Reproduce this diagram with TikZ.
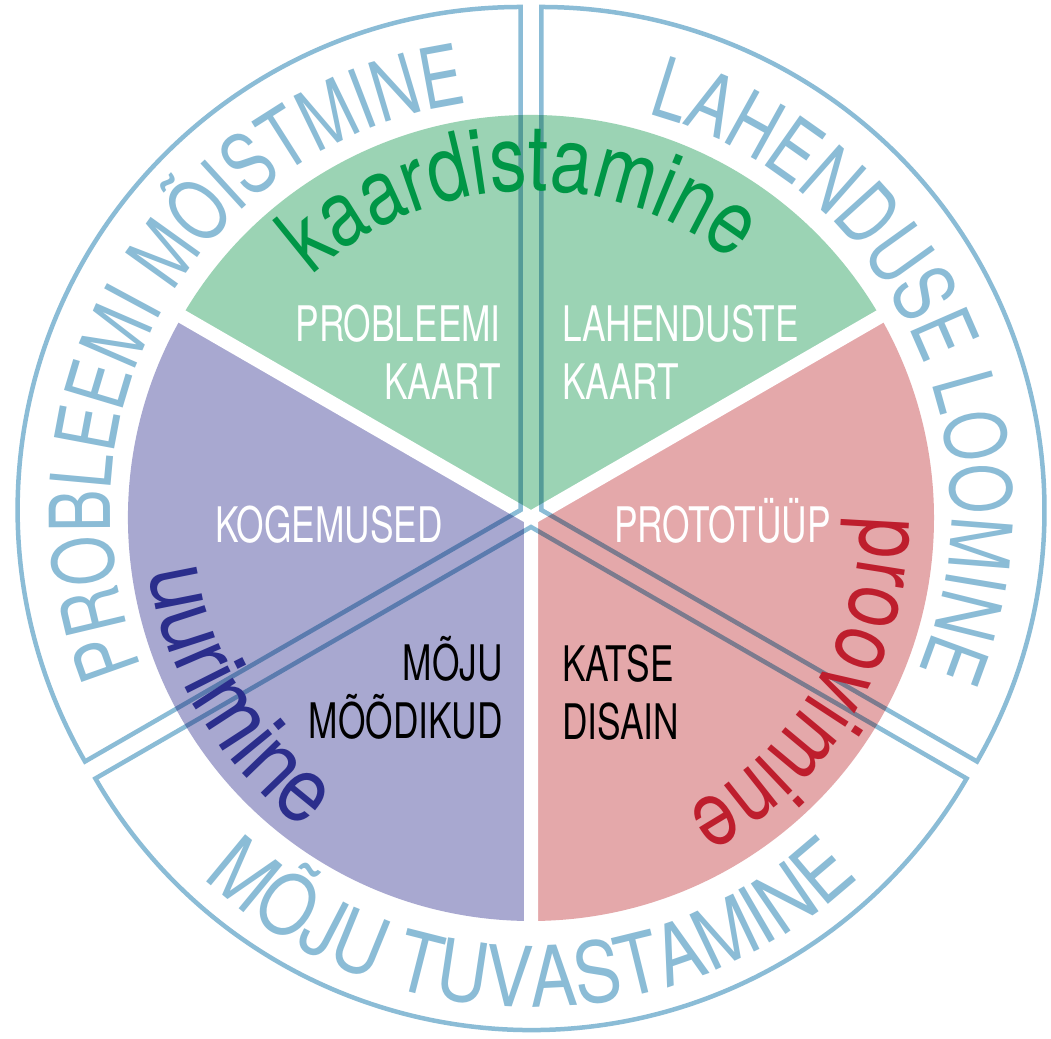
\documentclass[tikz,border=0pt]{standalone}
\usepackage{fontspec}
\setmainfont{TeX Gyre Heros}
\newfontfamily\lblfont{TeX Gyre Heros}[FakeStretch=0.72]
\newfontfamily\ringfont{TeX Gyre Heros}[FakeStretch=0.76]
\newfontfamily\ringfontb{TeX Gyre Heros}[FakeStretch=0.84]
\newfontfamily\bigfont{TeX Gyre Heros}[FakeStretch=0.80]
\newfontfamily\bigfontb{TeX Gyre Heros}[FakeStretch=0.88]
\usetikzlibrary{decorations.text}
\definecolor{ringblue}{RGB}{139,188,214}
\definecolor{greenfill}{RGB}{155,211,180}
\definecolor{purplefill}{RGB}{168,168,208}
\definecolor{pinkfill}{RGB}{228,168,170}
\definecolor{greentext}{RGB}{0,150,70}
\definecolor{bluetext}{RGB}{43,46,140}
\definecolor{redtext}{RGB}{190,30,45}
\tikzset{
  ringline/.style={draw=ringblue, line width=4.5pt, blend mode=multiply},
  gapline/.style={draw=white, line width=14pt},
  lbl/.style={inner sep=0pt, font=\lblfont\fontsize{49}{58}\selectfont},
  whitelbl/.style={lbl, text=white},
  blacklbl/.style={lbl, text=black},
}
\begin{document}
\begin{tikzpicture}[x=1pt,y=1pt]
\useasboundingbox (0,0) rectangle (1051,1038);
\fill[white] (0,0) rectangle (1051,1038);
\coordinate (C) at (531,520);
\coordinate (L) at (520.6,528);
\coordinate (R) at (541.4,528);
\coordinate (B) at (531,511);
% inner pie
\fill[greenfill] (C) -- ++(30:403) arc[start angle=30, end angle=150, radius=403] -- cycle;
\fill[purplefill] (C) -- ++(150:403) arc[start angle=150, end angle=270, radius=403] -- cycle;
\fill[pinkfill] (C) -- ++(270:403) arc[start angle=270, end angle=390, radius=403] -- cycle;
\draw[gapline] (C) -- ++(30:420) (C) -- ++(150:420) (C) -- ++(270:420);
% outer sectors
\draw[ringline] (L) -- ++(90:503) arc[start angle=90, end angle=210, radius=503] -- cycle;
\draw[ringline] (R) -- ++(-30:503) arc[start angle=-30, end angle=90, radius=503] -- cycle;
\draw[ringline] (B) -- ++(210:503) arc[start angle=210, end angle=330, radius=503] -- cycle;
% ring texts
\path[shift={(L)}, decorate, decoration={text along path, text align=center,
  text={|\ringfont\fontsize{84}{84}\selectfont\color{ringblue}|PROBLEEMI MÕISTMINE}}]
  (240:410) arc[start angle=240, end angle=60, radius=410];
\path[shift={(R)}, decorate, decoration={text along path, text align=center,
  text={|\ringfont\fontsize{84}{84}\selectfont\color{ringblue}|LAHENDUSE LOOMINE}}]
  (116:410) arc[start angle=116, end angle=-64, radius=410];
\path[shift={(B)}, decorate, decoration={text along path, text align=center,
  text={|\ringfontb\fontsize{84}{84}\selectfont\color{ringblue}|MÕJU TUVASTAMINE}}]
  (180:480) arc[start angle=180, end angle=360, radius=480];
% big sector texts
\path[shift={(C)}, decorate, decoration={text along path, text align=center,
  text={|\bigfont\fontsize{92}{92}\selectfont\color{greentext}|kaardistamine}}]
  (182:327) arc[start angle=182, end angle=2, radius=327];
\path[shift={(C)}, decorate, decoration={text along path, text align=center,
  text={|\bigfont\fontsize{92}{92}\selectfont\color{redtext}|proovimine}}]
  (59:330) arc[start angle=59, end angle=-121, radius=330];
\path[shift={(C)}, decorate, decoration={text along path, text align=center,
  text={|\bigfontb\fontsize{92}{92}\selectfont\color{bluetext}|uurimine}}]
  (121:385) arc[start angle=121, end angle=301, radius=385];
% inner labels
\node[whitelbl, anchor=base east] (pk1) at (501,696) {PROBLEEMI};
\node[whitelbl, anchor=base east] (pk2) at (501,638) {KAART};
\node[whitelbl, anchor=base west] (lk1) at (562,696) {LAHENDUSTE};
\node[whitelbl, anchor=base west] (lk2) at (562,638) {KAART};
\node[whitelbl, anchor=base east] (kog) at (443,495) {KOGEMUSED};
\node[whitelbl, anchor=base west] (pro) at (614,495) {PROTOTÜÜP};
\node[blacklbl, anchor=base east] (mm1) at (503,357) {MÕJU};
\node[blacklbl, anchor=base east] (mm2) at (503,299) {MÕÕDIKUD};
\node[blacklbl, anchor=base west] (kd1) at (562,356) {KATSE};
\node[blacklbl, anchor=base west] (kd2) at (562,298) {DISAIN};
\end{tikzpicture}
\end{document}
